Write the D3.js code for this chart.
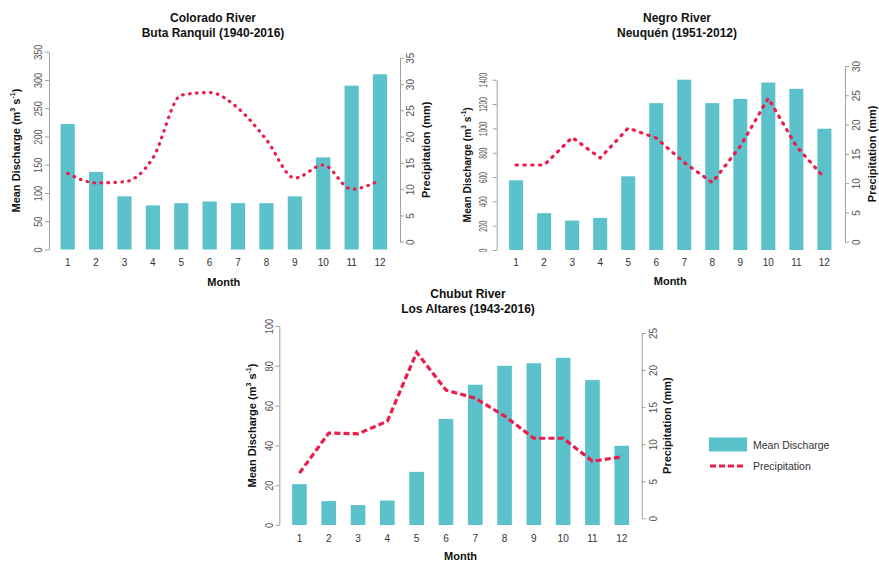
<!DOCTYPE html>
<html>
<head>
<meta charset="utf-8">
<script src="https://cdn.jsdelivr.net/npm/d3@7/dist/d3.min.js"></script>
<style>
  html, body { margin: 0; padding: 0; background: #fff; }
  svg { display: block; font-family: "Liberation Sans", Arial, sans-serif; }
</style>
</head>
<body>
<svg id="chart" width="879" height="562"></svg>
<script>
// Monthly mean discharge (m3/s) and precipitation (mm) for three Patagonian rivers
const months = [1, 2, 3, 4, 5, 6, 7, 8, 9, 10, 11, 12];

const coloradoDischarge = [222, 137, 94, 78, 82, 85, 82, 82, 94, 163, 290, 310];
const coloradoPrecip    = [13.0, 11.2, 11.4, 15.9, 27.9, 28.4, 25.4, 19.4, 12.1, 14.6, 10.0, 11.7];

const negroDischarge = [573, 303, 242, 264, 606, 1207, 1400, 1207, 1242, 1377, 1325, 997];
const negroPrecip    = [13.1, 13.1, 17.8, 14.3, 19.4, 17.7, 13.5, 10.1, 16.3, 24.5, 16.3, 10.9];

const chubutDischarge = [20.5, 12, 10, 12.3, 26.7, 53.3, 70.5, 80, 81.3, 84, 72.8, 39.8];
const chubutPrecip    = [6.1, 11.5, 11.4, 13.1, 22.4, 17.3, 16.2, 13.8, 10.8, 10.8, 7.7, 8.3];

const coloradoLeftTicks = [0, 50, 100, 150, 200, 250, 300, 350];
const coloradoRightTicks = [0, 5, 10, 15, 20, 25, 30, 35];
const negroLeftTicks = [0, 200, 400, 600, 800, 1000, 1200, 1400];
const negroRightTicks = [0, 5, 10, 15, 20, 25, 30];
const chubutLeftTicks = [0, 20, 40, 60, 80, 100];
const chubutRightTicks = [0, 5, 10, 15, 20, 25];

const BAR = "#5bc1cb";
const LINE = "#ec1c4b";
const AXIS = "#a0a0a0";
const TICKTXT = "#555";

const svg = d3.select("#chart");

const panels = [
  {
    title: ["Colorado River", "Buta Ranquil (1940-2016)"], titleX: 213, titleY: [22, 37],
    discharge: coloradoDischarge, precip: coloradoPrecip,
    xRange: [53.5, 394.2],
    left: { domain: [0, 350], range: [249.5, 51.7], ticks: coloradoLeftTicks, x: 49, labelX: 38, titleX: 16, squash: 0.92 },
    right: { domain: [0, 35], range: [241.7, 57.8], ticks: coloradoRightTicks, x: 400, labelX: 410.5, titleX: 426 },
    xLabelY: 266, monthY: 286, curve: d3.curveMonotoneX, dash: "0.6,6.4", cap: "round"
  },
  {
    title: ["Negro River", "Neuquén (1951-2012)"], titleX: 677, titleY: [22, 37],
    discharge: negroDischarge, precip: negroPrecip,
    xRange: [502.1, 838.4],
    left: { domain: [0, 1400], range: [250, 79.7], ticks: negroLeftTicks, x: 496.7, labelX: 483, titleX: 467, squash: 0.66, titleSquash: 0.93 },
    right: { domain: [0, 30], range: [241.7, 66], ticks: negroRightTicks, x: 845, labelX: 856.5, titleX: 872 },
    xLabelY: 266, monthY: 285, curve: d3.curveLinear, dash: "1.4,6.4", cap: "round"
  },
  {
    title: ["Chubut River", "Los Altares (1943-2016)"], titleX: 468, titleY: [298, 313],
    discharge: chubutDischarge, precip: chubutPrecip,
    xRange: [284.8, 636.4],
    left: { domain: [0, 100], range: [525, 326], ticks: chubutLeftTicks, x: 279.3, labelX: 269, titleX: 252, squash: 0.92 },
    right: { domain: [0, 25], range: [518.3, 333], ticks: chubutRightTicks, x: 641.7, labelX: 653, titleX: 667 },
    xLabelY: 542, monthY: 560, curve: d3.curveLinear, dash: "6,3.2", cap: "butt"
  }
];

function drawPanel(p) {
  const g = svg.append("g");

  const x = d3.scaleBand().domain(months).range(p.xRange).paddingInner(0.5).paddingOuter(0.25);
  const yL = d3.scaleLinear().domain(p.left.domain).range(p.left.range);
  const yR = d3.scaleLinear().domain(p.right.domain).range(p.right.range);

  // bars: mean discharge
  g.selectAll("rect.bar").data(months).join("rect")
    .attr("class", "bar")
    .attr("x", d => x(d))
    .attr("width", x.bandwidth())
    .attr("y", (d, i) => yL(p.discharge[i]))
    .attr("height", (d, i) => yL(0) - yL(p.discharge[i]))
    .attr("fill", BAR);

  // dashed precipitation line
  const line = d3.line()
    .x((d, i) => x(months[i]) + x.bandwidth() / 2)
    .y(d => yR(d))
    .curve(p.curve);
  g.append("path")
    .attr("d", line(p.precip))
    .attr("fill", "none")
    .attr("stroke", LINE)
    .attr("stroke-width", 3.2)
    .attr("stroke-linecap", p.cap)
    .attr("stroke-dasharray", p.dash);

  // left axis
  const axL = d3.axisLeft(yL).tickValues(p.left.ticks).tickSize(4).tickSizeOuter(0).tickFormat(d3.format("d"));
  const gl = g.append("g").attr("transform", `translate(${p.left.x},0)`).call(axL);
  // right axis
  const axR = d3.axisRight(yR).tickValues(p.right.ticks).tickSize(4).tickSizeOuter(0).tickFormat(d3.format("d"));
  const gr = g.append("g").attr("transform", `translate(${p.right.x},0)`).call(axR);

  [[gl, p.left], [gr, p.right]].forEach(([ga, cfg]) => {
    ga.select(".domain").attr("stroke", AXIS);
    ga.selectAll(".tick line").attr("stroke", AXIS);
    ga.selectAll(".tick text")
      .attr("x", null).attr("dy", null)
      .attr("fill", TICKTXT)
      .attr("font-size", 10)
      .attr("text-anchor", "middle")
      .attr("dominant-baseline", "central")
      .attr("transform", `translate(${cfg.labelX - cfg.x},0) rotate(-90) scale(${cfg.squash || 1},1)`);
  });

  // month labels along the bottom
  g.selectAll("text.month").data(months).join("text")
    .attr("class", "month")
    .attr("x", d => x(d) + x.bandwidth() / 2)
    .attr("y", p.xLabelY)
    .attr("text-anchor", "middle")
    .attr("font-size", 10)
    .attr("fill", "#333")
    .text(d => d);

  // axis titles
  const midX = (p.xRange[0] + p.xRange[1]) / 2;
  g.append("text")
    .attr("x", midX).attr("y", p.monthY)
    .attr("text-anchor", "middle").attr("font-size", 11).attr("font-weight", "bold").attr("fill", "#111")
    .text("Month");

  const lMid = (p.left.range[0] + p.left.range[1]) / 2;
  const lt = g.append("text")
    .attr("transform", `translate(${p.left.titleX},${lMid}) rotate(-90) scale(${p.left.titleSquash || 1},1)`)
    .attr("text-anchor", "middle").attr("dominant-baseline", "central")
    .attr("font-size", 11).attr("font-weight", "bold").attr("fill", "#111");
  lt.append("tspan").text("Mean Discharge (m");
  lt.append("tspan").attr("font-size", 7).attr("baseline-shift", "4").text("3");
  lt.append("tspan").text(" s");
  lt.append("tspan").attr("font-size", 7).attr("baseline-shift", "4").text("-1");
  lt.append("tspan").text(")");

  const rMid = (p.right.range[0] + p.right.range[1]) / 2;
  g.append("text")
    .attr("transform", `translate(${p.right.titleX},${rMid}) rotate(-90)`)
    .attr("text-anchor", "middle").attr("dominant-baseline", "central")
    .attr("font-size", 11).attr("font-weight", "bold").attr("fill", "#111")
    .text("Precipitation (mm)");

  // panel title
  p.title.forEach((t, i) => {
    g.append("text")
      .attr("x", p.titleX).attr("y", p.titleY[i])
      .attr("text-anchor", "middle").attr("font-size", 12).attr("font-weight", "bold").attr("fill", "#111")
      .text(t);
  });
}

panels.forEach(drawPanel);

// legend
const legend = svg.append("g");
legend.append("rect").attr("x", 709).attr("y", 437.5).attr("width", 38).attr("height", 14).attr("fill", BAR);
legend.append("text").attr("x", 753).attr("y", 448.5).attr("font-size", 10.5).attr("fill", "#333").text("Mean Discharge");
legend.append("line").attr("x1", 710).attr("x2", 744).attr("y1", 466).attr("y2", 466)
  .attr("stroke", LINE).attr("stroke-width", 3).attr("stroke-dasharray", "6,3");
legend.append("text").attr("x", 753).attr("y", 469.5).attr("font-size", 10.5).attr("fill", "#333").text("Precipitation");
</script>
</body>
</html>
